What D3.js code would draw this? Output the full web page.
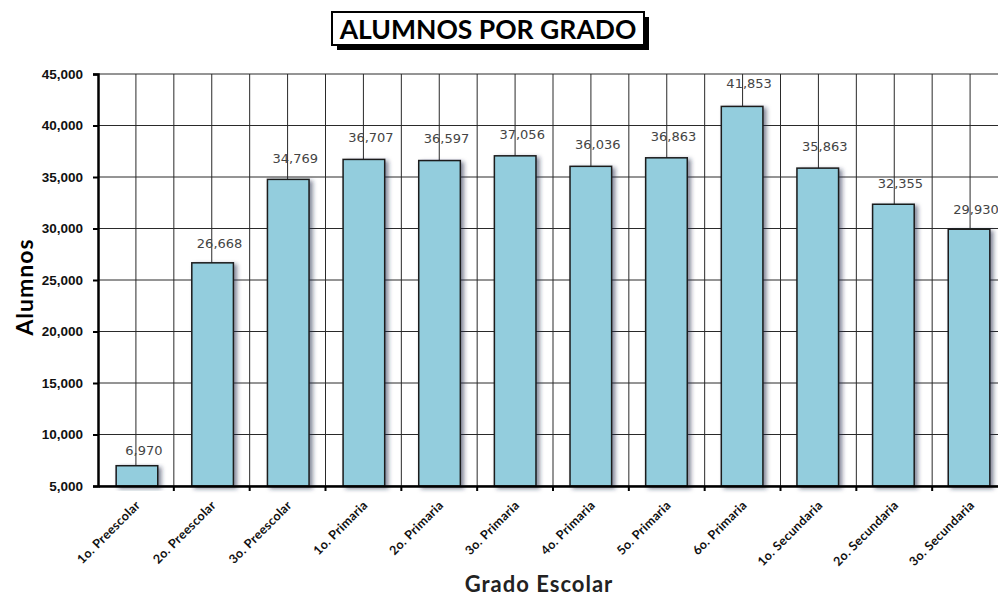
<!DOCTYPE html>
<html>
<head>
<meta charset="utf-8">
<script src="https://cdn.jsdelivr.net/npm/d3@7"></script>
<style>
  body { margin: 0; background: #fff; }
  svg { display: block; }
</style>
</head>
<body>
<div id="root"></div>
<script>
const grados = ["1o. Preescolar", "2o. Preescolar", "3o. Preescolar", "1o. Primaria", "2o. Primaria",
  "3o. Primaria", "4o. Primaria", "5o. Primaria", "6o. Primaria", "1o. Secundaria", "2o. Secundaria", "3o. Secundaria"];
const alumnos = [6970, 26668, 34769, 36707, 36597, 37056, 36036, 36863, 41853, 35863, 32355, 29930];
const yTicks = [5000, 10000, 15000, 20000, 25000, 30000, 35000, 40000, 45000];

const width = 998, height = 596;
const margins = { top: 74, left: 98, right: -10, bottom: 110 };
const fmt = d3.format(",");
const font = "Lato, 'DejaVu Sans', sans-serif";

const svg = d3.select("#root").append("svg")
  .attr("width", width).attr("height", height)
  .attr("viewBox", [0, 0, width, height]);

const defs = svg.append("defs");
const shadow = defs.append("filter").attr("id", "shadow")
  .attr("x", "-20%").attr("y", "-10%").attr("width", "150%").attr("height", "130%");
shadow.append("feDropShadow").attr("dx", 3).attr("dy", 2).attr("stdDeviation", 2)
  .attr("flood-color", "#1c2a4a").attr("flood-opacity", 0.55);

const x = d3.scaleBand().domain(grados)
  .range([margins.left, width - margins.right]).paddingInner(0.45).paddingOuter(0.24);
const xBand = d3.scaleBand().domain(grados).range([margins.left, width - margins.right]);
const y = d3.scaleLinear().domain([5000, 45000]).range([height - margins.bottom, margins.top]);

// grid
const grid = svg.append("g").attr("stroke", "#2a2a2a").attr("stroke-width", 1);
grid.selectAll(".hg").data(yTicks).join("line")
  .attr("x1", margins.left).attr("x2", width - margins.right)
  .attr("y1", d => y(d)).attr("y2", d => y(d));
const vlines = [];
grados.forEach(g => {
  vlines.push(xBand(g) + xBand.bandwidth() / 2);
  vlines.push(xBand(g) + xBand.bandwidth());
});
grid.selectAll(".vg").data(vlines).join("line")
  .attr("x1", d => d).attr("x2", d => d)
  .attr("y1", y(45000)).attr("y2", y(5000));

// bars
svg.append("g").selectAll("rect").data(grados).join("rect")
  .attr("x", (d) => x(d))
  .attr("y", (d, i) => y(alumnos[i]))
  .attr("width", x.bandwidth())
  .attr("height", (d, i) => y(5000) - y(alumnos[i]))
  .attr("fill", "#93CDDD")
  .attr("stroke", "#1a1a1a")
  .attr("stroke-width", 1.5)
  .attr("filter", "url(#shadow)");

// value labels (sit a bit right of the bar centre, like the original)
svg.append("g").selectAll("text").data(grados).join("text")
  .attr("x", d => x(d) + x.bandwidth() / 2 + 7)
  .attr("y", (d, i) => y(alumnos[i]) - 10 - 0.022 * (y(5000) - y(alumnos[i])))
  .attr("text-anchor", "middle")
  .style("font-family", "'DejaVu Sans', sans-serif")
  .style("font-size", "13px")
  .attr("fill", "#444")
  .text((d, i) => fmt(alumnos[i]));

// y axis
const yAxis = d3.axisLeft(y).tickValues(yTicks).tickFormat(fmt).tickSize(5).tickPadding(10);
const gy = svg.append("g").attr("transform", `translate(${margins.left},0)`).call(yAxis);
gy.select(".domain").attr("stroke", "#000").attr("stroke-width", 2.5);
gy.selectAll(".tick line").attr("stroke", "#000").attr("stroke-width", 2);
gy.selectAll(".tick text")
  .style("font-family", "'Liberation Sans', Arial, sans-serif")
  .style("font-size", "13.5px").style("font-weight", "bold").attr("fill", "#111");

// x axis
const xAxis = d3.axisBottom(xBand).tickSize(0).tickFormat("");
const gx = svg.append("g").attr("transform", `translate(0,${y(5000)})`).call(xAxis);
gx.select(".domain").attr("stroke", "#000").attr("stroke-width", 2.5);
gx.selectAll(".btick").data(grados).join("line")
  .attr("x1", d => xBand(d) + xBand.bandwidth()).attr("x2", d => xBand(d) + xBand.bandwidth())
  .attr("y1", 0).attr("y2", 5).attr("stroke", "#000").attr("stroke-width", 2);

svg.append("g").selectAll("text").data(grados).join("text")
  .attr("transform", d => `translate(${xBand(d) + xBand.bandwidth() / 2 + 5},${y(5000) + 20}) rotate(-45)`)
  .attr("text-anchor", "end")
  .style("font-family", font)
  .style("font-size", "12.5px").style("font-weight", "bold")
  .style("letter-spacing", "0.3px")
  .attr("fill", "#111")
  .text(d => d);

// axis titles
svg.append("text")
  .attr("transform", `translate(33,287) rotate(-90)`)
  .attr("text-anchor", "middle")
  .style("font-family", font)
  .style("font-size", "23px").style("font-weight", "bold")
  .style("letter-spacing", "1px")
  .text("Alumnos");

svg.append("text")
  .attr("x", 539).attr("y", 592)
  .attr("text-anchor", "middle")
  .style("font-family", font)
  .style("font-size", "22px").style("font-weight", "bold")
  .style("letter-spacing", "1px")
  .attr("fill", "#222")
  .text("Grado Escolar");

// title box
const title = svg.append("g");
title.append("rect").attr("x", 337).attr("y", 17).attr("width", 312).attr("height", 33).attr("fill", "#000");
title.append("rect").attr("x", 332).attr("y", 12).attr("width", 312).attr("height", 33)
  .attr("fill", "#fff").attr("stroke", "#000").attr("stroke-width", 2);
title.append("text")
  .attr("x", 488).attr("y", 39).attr("text-anchor", "middle")
  .style("font-family", font)
  .style("font-size", "26.5px").style("font-weight", "bold")
  .text("ALUMNOS POR GRADO");
</script>
</body>
</html>
